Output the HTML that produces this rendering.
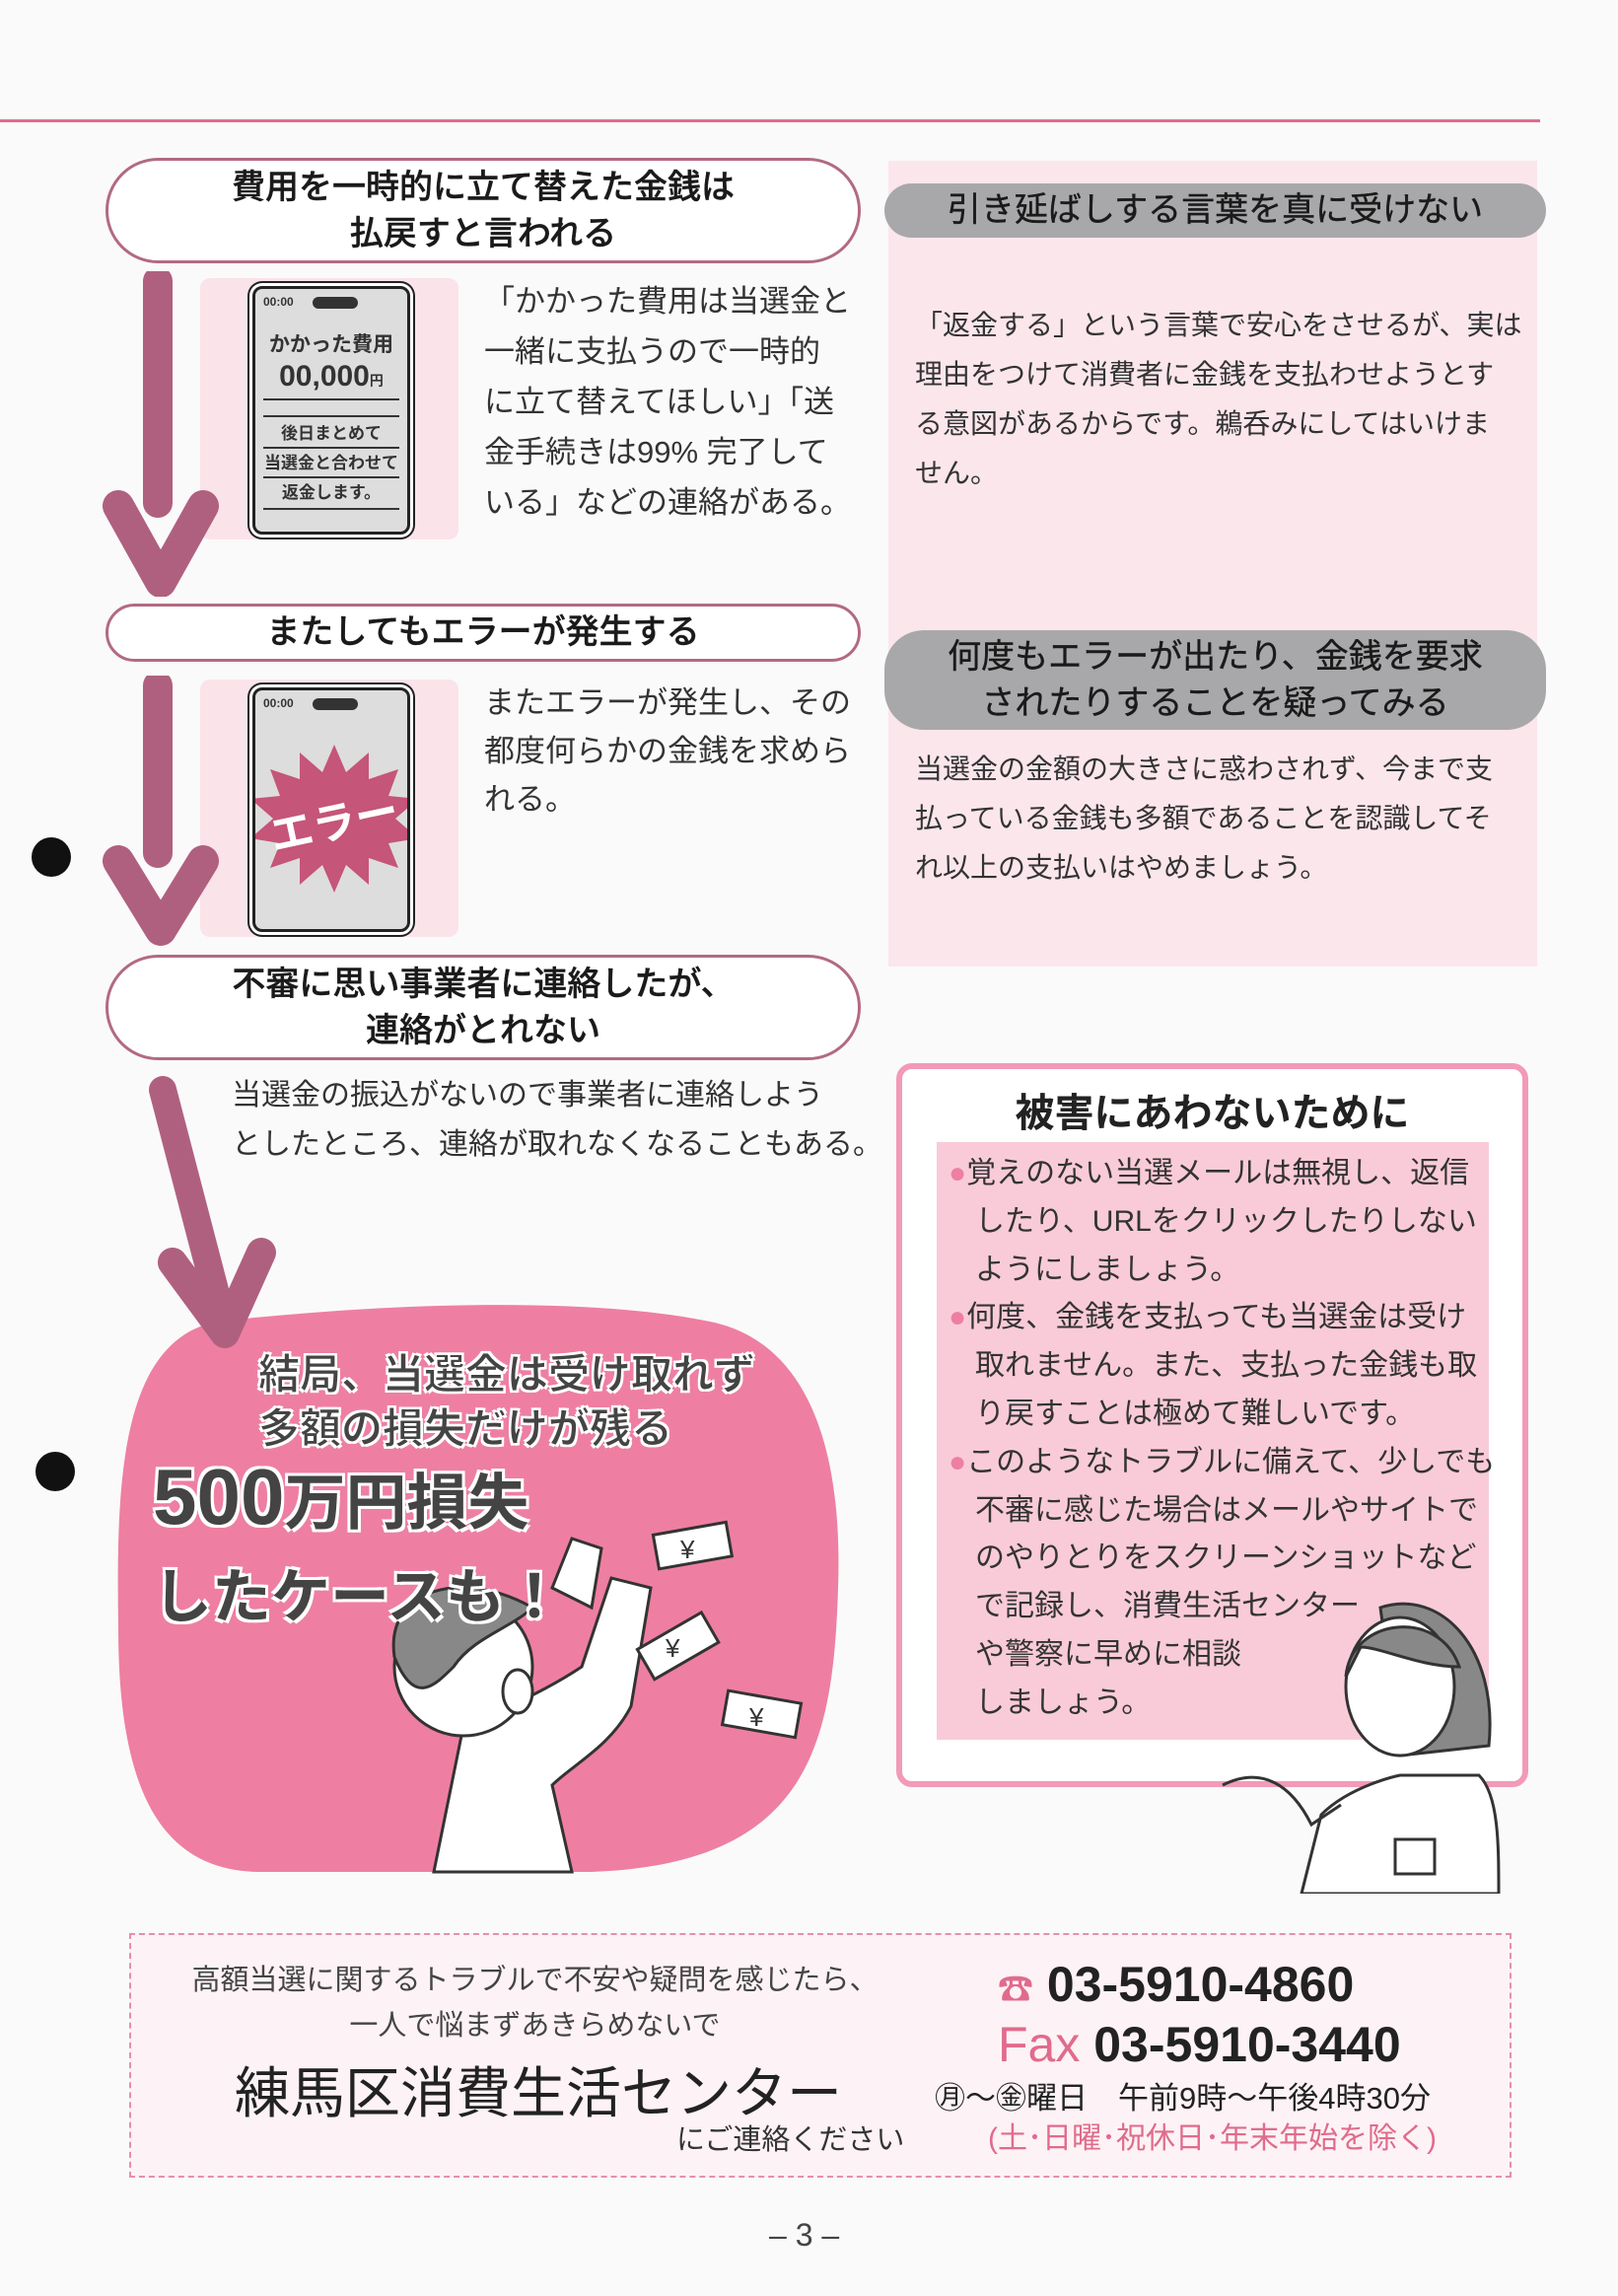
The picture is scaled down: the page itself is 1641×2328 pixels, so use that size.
<!DOCTYPE html>
<html><head><meta charset="utf-8"><style>
*{margin:0;padding:0;box-sizing:border-box}
body{width:1641px;height:2328px;background:#fafafa;position:relative;overflow:hidden;font-family:"Liberation Sans","Noto Sans CJK JP",sans-serif;color:#333}
.a{position:absolute}
.pill{position:absolute;border:3px solid #b26a82;border-radius:60px;background:#fff;text-align:center;font-size:34px;color:#1a1a1a;font-weight:500;-webkit-text-stroke:0.4px #1a1a1a}
.txt{position:absolute;font-size:30px;line-height:50px;color:#333;white-space:nowrap}
.grey{position:absolute;background:#a8a8aa;border-radius:40px;text-align:center;font-size:34px;color:#1a1a1a;-webkit-text-stroke:0.4px #1a1a1a}
.ph{position:absolute;border:3px solid #222;border-radius:10px;background:#ddd;box-shadow:0 0 0 3px #fff,0 0 0 5px #222}
.pl{position:absolute;left:8px;right:8px;border-top:2px solid #333}
</style></head><body>
<div class="a" style="left:0;top:121px;width:1562px;height:3px;background:#e06b8d"></div>

<div class="a" style="left:901px;top:163px;width:658px;height:817px;background:#fbe6ec"></div>
<div class="grey" style="left:897px;top:186px;width:671px;height:55px;line-height:55px">引き延ばしする言葉を真に受けない</div>
<div class="txt" style="left:928px;top:305px;font-size:28px">「返金する」という言葉で安心をさせるが、実は<br>理由をつけて消費者に金銭を支払わせようとす<br>る意図があるからです。鵜呑みにしてはいけま<br>せん。</div>
<div class="grey" style="left:897px;top:639px;width:671px;height:101px;line-height:47px;padding-top:4px">何度もエラーが出たり、金銭を要求<br>されたりすることを疑ってみる</div>
<div class="txt" style="left:928px;top:755px;font-size:28px">当選金の金額の大きさに惑わされず、今まで支<br>払っている金銭も多額であることを認識してそ<br>れ以上の支払いはやめましょう。</div>

<div class="pill" style="left:107px;top:160px;width:766px;height:107px;line-height:47px;padding-top:4px">費用を一時的に立て替えた金銭は<br>払戻すと言われる</div>
<div class="a" style="left:203px;top:282px;width:262px;height:265px;background:#fbe3ea;border-radius:10px"></div>
<div class="ph" style="left:256px;top:290px;width:160px;height:252px">
 <div class="a" style="left:8px;top:6px;font-size:12px;font-weight:bold">00:00</div>
 <div class="a" style="left:58px;top:8px;width:46px;height:12px;background:#333;border-radius:6px"></div>
 <div class="a" style="left:0;right:0;top:40px;text-align:center;font-size:21px;font-weight:bold">かかった費用</div>
 <div class="a" style="left:0;right:0;top:72px;text-align:center;font-size:30px;font-weight:bold">00,000<span style="font-size:14px">円</span></div>
 <div class="pl" style="top:111px"></div><div class="pl" style="top:128px"></div>
 <div class="a" style="left:0;right:0;top:132px;text-align:center;font-size:17px;font-weight:bold;line-height:30px">後日まとめて<br>当選金と合わせて<br>返金します。</div>
 <div class="pl" style="top:160px"></div><div class="pl" style="top:190px"></div><div class="pl" style="top:222px"></div>
</div>
<div class="txt" style="left:491px;top:280px;font-size:31px;line-height:51px">「かかった費用は当選金と<br>一緒に支払うので一時的<br>に立て替えてほしい」「送<br>金手続きは99% 完了して<br>いる」などの連絡がある。</div>
<svg class="a" style="left:100px;top:275px" width="130" height="330"><path d="M60 10 L60 235" stroke="#b0607f" stroke-width="30" stroke-linecap="round"/><path d="M20 238 L63 315 L106 238" stroke="#b0607f" stroke-width="32" fill="none" stroke-linecap="round" stroke-linejoin="round"/></svg>

<div class="pill" style="left:107px;top:612px;width:766px;height:59px;line-height:53px">またしてもエラーが発生する</div>
<div class="a" style="left:203px;top:689px;width:262px;height:261px;background:#fbe3ea;border-radius:10px"></div>
<div class="ph" style="left:256px;top:697px;width:160px;height:248px;overflow:hidden">
 <div class="a" style="left:8px;top:6px;font-size:12px;font-weight:bold">00:00</div>
 <div class="a" style="left:58px;top:8px;width:46px;height:12px;background:#333;border-radius:6px"></div>
 <svg class="a" style="left:-10px;top:55px" width="180" height="150"><polygon points="90,0 102,28 125,8 125,35 155,25 145,52 175,55 152,75 175,95 145,100 155,125 125,115 125,142 102,122 90,150 78,122 55,142 55,115 25,125 35,100 5,95 28,75 5,55 35,52 25,25 55,35 55,8 78,28" fill="#c55579"/><text x="90" y="95" text-anchor="middle" font-size="44" font-weight="bold" fill="#fff" transform="rotate(-12 90 80)" font-family="Noto Sans CJK JP">エラー</text></svg>
</div>
<div class="txt" style="left:491px;top:688px;font-size:31px;line-height:49px">またエラーが発生し、その<br>都度何らかの金銭を求めら<br>れる。</div>
<svg class="a" style="left:100px;top:685px" width="130" height="275"><path d="M60 10 L60 180" stroke="#b0607f" stroke-width="30" stroke-linecap="round"/><path d="M20 188 L63 258 L106 188" stroke="#b0607f" stroke-width="32" fill="none" stroke-linecap="round" stroke-linejoin="round"/></svg>

<div class="pill" style="left:107px;top:968px;width:766px;height:107px;line-height:47px;padding-top:4px">不審に思い事業者に連絡したが、<br>連絡がとれない</div>
<div class="txt" style="left:235px;top:1086px">当選金の振込がないので事業者に連絡しよう<br>としたところ、連絡が取れなくなることもある。</div>

<svg class="a" style="left:0;top:1090px" width="900" height="820">
<path d="M220 250 C400 230 600 225 720 250 C820 270 855 380 850 520 C845 680 820 800 600 808 L260 808 C160 805 120 720 120 560 C118 420 120 270 220 250 Z" fill="#ee7fa2"/>
<path d="M165 15 L225 245" stroke="#b0607f" stroke-width="28" stroke-linecap="round"/>
<path d="M175 190 L228 262 L265 180" stroke="#b0607f" stroke-width="30" fill="none" stroke-linecap="round" stroke-linejoin="round"/>
<path d="M440 808 L470 660 C520 640 560 620 590 600 L620 510 L660 520 L640 640 C620 680 580 700 560 720 L580 808 Z" fill="#fff" stroke="#333" stroke-width="3"/>
<circle cx="470" cy="600" r="70" fill="#fff" stroke="#333" stroke-width="3"/>
<path d="M400 590 C390 520 470 500 540 540 C520 560 480 570 460 600 C440 620 420 640 400 590Z" fill="#888" stroke="#333" stroke-width="3"/>
<ellipse cx="525" cy="625" rx="15" ry="22" fill="#fff" stroke="#333" stroke-width="3"/>
<path d="M560 520 L580 470 L610 480 L600 540 Z" fill="#fff" stroke="#333" stroke-width="3"/>
<g fill="#fff" stroke="#333" stroke-width="3"><rect x="665" y="460" width="75" height="35" transform="rotate(-10 700 478)"/><rect x="650" y="560" width="75" height="35" transform="rotate(-30 690 578)"/><rect x="735" y="630" width="75" height="35" transform="rotate(10 770 648)"/></g>
<g font-size="26" fill="#333"><text x="690" y="490">¥</text><text x="675" y="590">¥</text><text x="760" y="660">¥</text></g>
</svg>
<div class="a" style="left:262px;top:1366px;font-size:42px;font-weight:bold;color:#444;line-height:55px;-webkit-text-stroke:1px #fff;text-shadow:2px 2px 0 #fff,-2px -2px 0 #fff,2px -2px 0 #fff,-2px 2px 0 #fff">結局、当選金は受け取れず<br>多額の損失だけが残る</div>
<div class="a" style="left:155px;top:1474px;font-size:80px;font-weight:bold;color:#444;line-height:88px;text-shadow:3px 3px 0 #fff,-3px -3px 0 #fff,3px -3px 0 #fff,-3px 3px 0 #fff">500<span style="font-size:62px">万円損失</span><br><span style="font-size:60px">したケースも！</span></div>

<div class="a" style="left:909px;top:1078px;width:641px;height:734px;border:6px solid #f29ab6;border-radius:16px;background:#fff"></div>
<div class="a" style="left:909px;top:1096px;width:641px;text-align:center;font-size:40px;font-weight:bold;color:#222">被害にあわないために</div>
<div class="a" style="left:950px;top:1158px;width:560px;height:606px;background:#f9cbd8"></div>
<div class="txt" style="left:962px;top:1166px;line-height:48.8px;font-size:30px">
<span style="color:#ee7fa2">●</span>覚えのない当選メールは無視し、返信<br><span style="margin-left:27px">したり、URLをクリックしたりしない</span><br><span style="margin-left:27px">ようにしましょう。</span><br>
<span style="color:#ee7fa2">●</span>何度、金銭を支払っても当選金は受け<br><span style="margin-left:27px">取れません。また、支払った金銭も取</span><br><span style="margin-left:27px">り戻すことは極めて難しいです。</span><br>
<span style="color:#ee7fa2">●</span>このようなトラブルに備えて、少しでも<br><span style="margin-left:27px">不審に感じた場合はメールやサイトで</span><br><span style="margin-left:27px">のやりとりをスクリーンショットなど</span><br><span style="margin-left:27px">で記録し、消費生活センター</span><br><span style="margin-left:27px">や警察に早めに相談</span><br><span style="margin-left:27px">しましょう。</span></div>
<svg class="a" style="left:1220px;top:1610px" width="320" height="310">
<path d="M180 20 C240 0 300 60 290 160 L200 170 Z" fill="#888" stroke="#333" stroke-width="3"/>
<path d="M100 310 L120 230 C150 200 200 190 200 190 L280 190 C300 210 300 260 300 310 Z" fill="#fff" stroke="#333" stroke-width="3"/>
<ellipse cx="200" cy="100" rx="55" ry="70" fill="#fff" stroke="#333" stroke-width="3"/>
<path d="M145 90 C150 30 240 20 260 80 C220 80 180 60 160 60 Z" fill="#888" stroke="#333" stroke-width="3"/>
<path d="M20 200 C60 180 90 200 110 240 L140 220" fill="none" stroke="#333" stroke-width="3"/>
<rect x="195" y="255" width="40" height="35" fill="#fff" stroke="#333" stroke-width="3"/>
</svg>

<div class="a" style="left:131px;top:1960px;width:1402px;height:248px;border:2px dashed #e590aa;background:#fdf2f5"></div>
<div class="a" style="left:180px;top:1985px;width:725px;text-align:center;font-size:29px;color:#444;line-height:46px">高額当選に関するトラブルで不安や疑問を感じたら、<br>一人で悩まずあきらめないで</div>
<div class="a" style="left:238px;top:2078px;font-size:56px;color:#222">練馬区消費生活センター</div>
<div class="a" style="left:686px;top:2146px;font-size:29px;color:#333">にご連絡ください</div>
<div class="a" style="left:1012px;top:1984px;font-size:50px;font-weight:bold;color:#222;line-height:56px"><span style="color:#e06b8d;font-size:36px">☎</span> 03-5910-4860<br><span style="color:#e06b8d;font-weight:normal">Fax</span> 03-5910-3440</div>
<div class="a" style="left:948px;top:2102px;font-size:31px;color:#222">㊊～㊎曜日　午前9時～午後4時30分</div>
<div class="a" style="left:1002px;top:2143px;font-size:30px;color:#e06b8d">(土･日曜･祝休日･年末年始を除く)</div>
<div class="a" style="left:780px;top:2248px;font-size:32px;color:#444">– 3 –</div>

<div class="a" style="left:32px;top:849px;width:40px;height:40px;border-radius:50%;background:#111"></div>
<div class="a" style="left:36px;top:1472px;width:40px;height:40px;border-radius:50%;background:#111"></div>
</body></html>
